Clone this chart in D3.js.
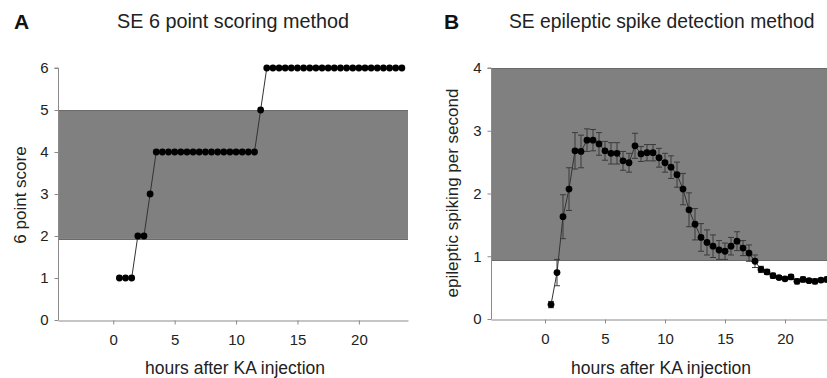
<!DOCTYPE html>
<html>
<head>
<meta charset="utf-8">
<script src="https://cdn.jsdelivr.net/npm/d3@7"></script>
<style>
  body { margin: 0; background: #fff; }
  svg { display: block; font-family: "Liberation Sans", Arial, sans-serif; }
</style>
</head>
<body>
<svg id="chart" width="827" height="378"></svg>
<script>
// panel A: 6 point score, one reading every half hour
const hoursA = [0.5, 1, 1.5, 2, 2.5, 3, 3.5, 4, 4.5, 5, 5.5, 6, 6.5, 7, 7.5, 8, 8.5, 9, 9.5, 10, 10.5, 11, 11.5,
  12, 12.5, 13, 13.5, 14, 14.5, 15, 15.5, 16, 16.5, 17, 17.5, 18, 18.5, 19, 19.5, 20, 20.5, 21, 21.5, 22, 22.5, 23, 23.5];
const scoreA = [1, 1, 1, 2, 2, 3, 4, 4, 4, 4, 4, 4, 4, 4, 4, 4, 4, 4, 4, 4, 4, 4, 4,
  5, 6, 6, 6, 6, 6, 6, 6, 6, 6, 6, 6, 6, 6, 6, 6, 6, 6, 6, 6, 6, 6, 6, 6];
const bandA = [1.93, 5];

// panel B: spikes per second, mean and error
const hoursB = hoursA;
const spikesB = [0.23, 0.74, 1.63, 2.07, 2.68, 2.67, 2.85, 2.85, 2.79, 2.68, 2.64, 2.64, 2.52, 2.49, 2.76, 2.63,
  2.65, 2.65, 2.57, 2.49, 2.42, 2.30, 2.07, 1.74, 1.51, 1.30, 1.22, 1.16, 1.10, 1.08, 1.16, 1.24, 1.13, 1.05,
  0.92, 0.79, 0.75, 0.69, 0.66, 0.64, 0.67, 0.60, 0.63, 0.61, 0.60, 0.62, 0.63];
const errB = [0.05, 0.21, 0.35, 0.34, 0.29, 0.26, 0.18, 0.17, 0.18, 0.15, 0.17, 0.17, 0.15, 0.15, 0.2, 0.12,
  0.13, 0.13, 0.15, 0.15, 0.18, 0.2, 0.25, 0.27, 0.25, 0.22, 0.2, 0.18, 0.15, 0.13, 0.14, 0.15, 0.12, 0.13,
  0.1, 0.05, 0.04, 0.04, 0.03, 0.03, 0.04, 0.04, 0.04, 0.03, 0.04, 0.03, 0.04];
const bandB = [0.94, 4];

const xTicks = [0, 5, 10, 15, 20];
const xDomain = [-4.5, 24];

const svg = d3.select('#chart');

function panel(opts) {
  const x = d3.scaleLinear().domain(xDomain).range(opts.xRange);
  const y = d3.scaleLinear().domain(opts.yDomain).range(opts.yRange);
  const g = svg.append('g');

  // shaded band
  g.append('rect')
    .attr('x', x(xDomain[0]))
    .attr('y', y(opts.band[1]))
    .attr('width', x(xDomain[1]) - x(xDomain[0]))
    .attr('height', y(opts.band[0]) - y(opts.band[1]))
    .attr('fill', '#808080');
  opts.band.forEach(v => {
    g.append('line')
      .attr('x1', x(xDomain[0])).attr('x2', x(xDomain[1]))
      .attr('y1', Math.round(y(v)) + 0.5).attr('y2', Math.round(y(v)) + 0.5)
      .attr('stroke', '#6a6a6a');
  });

  // axes
  const yAxis = g.append('g')
    .attr('transform', `translate(${Math.round(x(xDomain[0])) + 0.5},0)`)
    .call(d3.axisLeft(y).tickValues(d3.range(opts.yDomain[0], opts.yDomain[1] + 1)).tickSize(4).tickPadding(6).tickFormat(d3.format('d')));
  const xAxis = g.append('g')
    .attr('transform', `translate(0,${Math.round(y(0)) + 0.5})`)
    .call(d3.axisBottom(x).tickValues(xTicks).tickSize(4).tickPadding(10).tickSizeOuter(0));
  [xAxis, yAxis].forEach(a => {
    a.select('.domain').attr('stroke', '#8a8a8a');
    a.selectAll('.tick line').attr('stroke', '#8a8a8a');
    a.selectAll('.tick text').attr('font-size', 15).attr('fill', '#222')
      .attr('font-family', '"Liberation Sans", Arial, sans-serif');
  });
  yAxis.select('.domain').attr('d', `M-4,${y(opts.yDomain[1])}H0V${y(0)}`);

  // errors
  if (opts.err) {
    const eg = g.append('g').attr('stroke', '#3a3a3a').attr('stroke-width', 1);
    opts.xs.forEach((h, i) => {
      const cx = x(h), lo = y(opts.ys[i] - opts.err[i]), hi = y(opts.ys[i] + opts.err[i]);
      eg.append('line').attr('x1', cx).attr('x2', cx).attr('y1', lo).attr('y2', hi);
      eg.append('line').attr('x1', cx - 3).attr('x2', cx + 3).attr('y1', lo).attr('y2', lo);
      eg.append('line').attr('x1', cx - 3).attr('x2', cx + 3).attr('y1', hi).attr('y2', hi);
    });
  }

  const line = d3.line().x((d, i) => x(opts.xs[i])).y(d => y(d));
  g.append('path')
    .datum(opts.ys)
    .attr('d', line)
    .attr('fill', 'none')
    .attr('stroke', '#333')
    .attr('stroke-width', 1);

  g.selectAll('circle.pt')
    .data(opts.ys)
    .join('circle')
    .attr('class', 'pt')
    .attr('cx', (d, i) => x(opts.xs[i]))
    .attr('cy', d => y(d))
    .attr('r', 3.4)
    .attr('fill', '#000');

  // labels
  g.append('text')
    .attr('x', opts.letterX).attr('y', 29)
    .attr('font-size', 21).attr('font-weight', 'bold').attr('fill', '#111')
    .text(opts.letter);
  g.append('text')
    .attr('x', opts.titleX).attr('y', 28)
    .attr('font-size', opts.titleSize).attr('fill', '#222')
    .text(opts.title);
  g.append('text')
    .attr('x', (opts.xRange[0] + Math.min(opts.xRange[1], 827)) / 2 + 2).attr('y', 374)
    .attr('text-anchor', 'middle')
    .attr('font-size', 17.5).attr('fill', '#222')
    .text('hours after KA injection');
  g.append('text')
    .attr('transform', `translate(${opts.yLabelX},${opts.yLabelY}) rotate(-90)`)
    .attr('text-anchor', 'middle')
    .attr('font-size', 17).attr('fill', '#222')
    .text(opts.yLabel);
}

panel({
  xRange: [58, 408], yDomain: [0, 6], yRange: [320, 68], band: bandA,
  xs: hoursA, ys: scoreA,
  letter: 'A', letterX: 14, title: 'SE 6 point scoring method', titleX: 117, titleSize: 19.8,
  yLabel: '6 point score', yLabelX: 26, yLabelY: 195
});

panel({
  xRange: [491, 833], yDomain: [0, 4], yRange: [319, 68], band: bandB,
  xs: hoursB, ys: spikesB, err: errB,
  letter: 'B', letterX: 444, title: 'SE epileptic spike detection method', titleX: 509, titleSize: 19.3,
  yLabel: 'epileptic spiking per second', yLabelX: 458, yLabelY: 193
});
</script>
</body>
</html>
